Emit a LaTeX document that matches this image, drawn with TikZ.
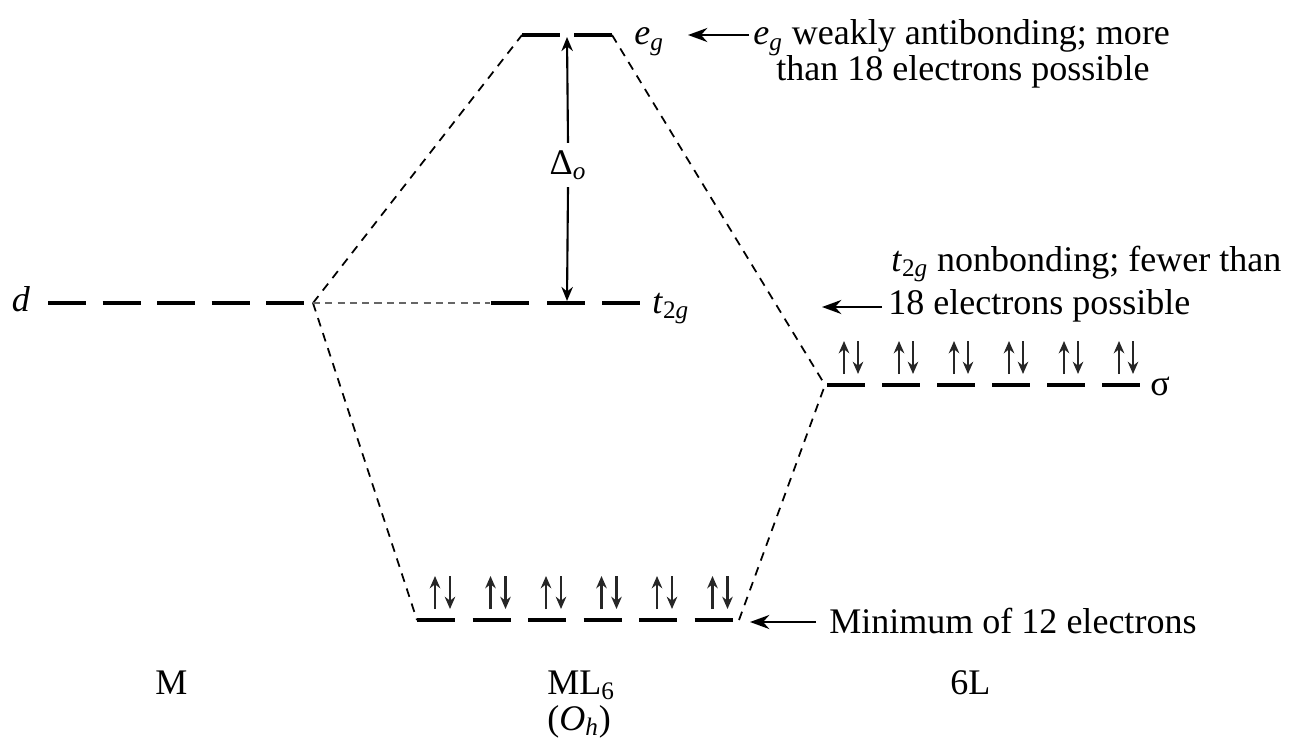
\documentclass[tikz,border=0pt]{standalone}
\usepackage{fontspec}
\setmainfont{Liberation Serif}
\usetikzlibrary{arrows.meta, positioning}

\begin{document}
\begin{tikzpicture}[
    x=0.02cm, y=-0.02cm,
    >={Stealth[length=8pt, width=6.5pt]},
    lvl/.style={line width=2.1pt},
    corr/.style={line width=1pt, dash pattern=on 5pt off 4pt},
    faint corr/.style={line width=0.9pt, black!60, dash pattern=on 4pt off 3pt},
    lbl/.style={font=\fontsize{20.5}{20.5}\selectfont, inner sep=0pt},
    spin/.style={line width=1.3pt, black!85, -{Stealth[length=7pt, width=6pt]}},
    ptr/.style={line width=1.2pt, -{Stealth[length=11pt, width=8pt]}},
]
\useasboundingbox (0,0) rectangle (1297,750);
% === Metal d levels ===
\node[lbl, anchor=base] (dlab) at (21,311) {\textit{d}};
\foreach \i in {0,...,4} {
    \draw[lvl] ({48+\i*54.5},303) -- ++(38,0);
}
\coordinate (dJ) at (313,303);
% === e_g levels ===
\coordinate (egL) at (522,35);
\coordinate (egR) at (612,35);
\coordinate (egM) at (567,37);
\draw[lvl] (egL) -- ++(38,0);
\draw[lvl] (egR) -- ++(-38,0);
\node[lbl, anchor=base west] (eglab) at (634,45) {\textit{e}\textsubscript{\textit{g}}};
% === t_2g levels ===
\coordinate (t2L) at (490,303);
\coordinate (t2M) at (567,301);
\foreach \x in {491,547,602} {
    \draw[lvl] (\x,303) -- ++(38,0);
}
\node[lbl, anchor=base west] (t2lab) at (652,313) {\textit{t}\textsubscript{2\textit{g}}};
% Splitting
\node[lbl, inner ysep=4pt] (dlt) at (568,165) {Δ\textsubscript{\textit{o}}};
\draw[->, line width=1.2pt] (dlt.north) -- (egM);
\draw[->, line width=1.2pt] (dlt.south) -- (t2M);
% === Ligand sigma levels ===
\foreach \i in {0,...,5} {
    \draw[lvl] ({827+\i*55},385) -- ++(38,0);
    \draw[spin] ({827+\i*55+17},374) -- ++(0,-33);
    \draw[spin] ({827+\i*55+31},341) -- ++(0,33);
}
\coordinate (sgL) at (825,385);
\node[lbl, anchor=base west] (sglab) at (1150,395) {σ};
% === Bonding levels ===
\foreach \i in {0,...,5} {
    \draw[lvl] ({417+\i*55.5},620) -- ++(38,0);
    \draw[spin] ({417+\i*55.5+18},609) -- ++(0,-33);
    \draw[spin] ({417+\i*55.5+33},576) -- ++(0,33);
}
\coordinate (bL) at (417,620);
\coordinate (bR) at (739,620);
% === Correlation lines ===
\draw[corr] (dJ) -- (egL);
\draw[corr] (egR) -- (sgL);
\draw[corr] (dJ) -- (bL);
\draw[corr] (bR) -- (sgL);
\draw[faint corr] (dJ) -- (t2L);
% === Notes ===
\node[lbl, anchor=base west] (egnote) at (753,45) {\textit{e}\textsubscript{\textit{g}} weakly antibonding; more};
\node[lbl, anchor=base west] (egnote2) at (776,81) {than 18 electrons possible};
\coordinate (egtail) at (749,35);
\coordinate (egtip) at (688,35);
\draw[ptr] (egtail) -- (egtip);
\node[lbl, anchor=base west] (t2note) at (891,271) {\textit{t}\textsubscript{2\textit{g}} nonbonding; fewer than};
\node[lbl, anchor=base west] (t2note2) at (888,314) {18 electrons possible};
\coordinate (t2tail) at (882,307);
\coordinate (t2tip) at (822,307);
\draw[ptr] (t2tail) -- (t2tip);
\node[lbl, anchor=base west] (bnote) at (829,633) {Minimum of 12 electrons};
\coordinate (btail) at (816,622);
\coordinate (btip) at (750,622);
\draw[ptr] (btail) -- (btip);
% === Column labels ===
\node[lbl, anchor=base west] (Mlab) at (155,694) {M};
\node[lbl, anchor=base west] (MLlab) at (547,694) {ML\textsubscript{6}};
\node[lbl, anchor=base west] (Ohlab) at (547,730) {(\textit{O}\textsubscript{\textit{h}})};
\node[lbl, anchor=base west] (Llab) at (950,694) {6L};
\end{tikzpicture}
\end{document}
